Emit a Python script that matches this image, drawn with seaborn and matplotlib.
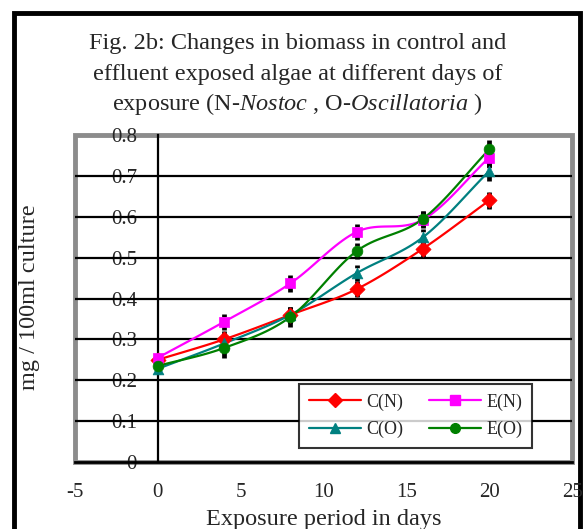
"""
Biomass of control and effluent exposed algae (Fig. 2b) redrawn with seaborn.
"""
import numpy as np
import pandas as pd
import seaborn as sns
import matplotlib
matplotlib.use('Agg')
import matplotlib.pyplot as plt
from matplotlib.lines import Line2D
from matplotlib.patches import Rectangle

# Days of exposure
DAYS = [0, 4, 8, 12, 16, 20]

# Biomass (mg / 100ml culture)
C_N = [0.250, 0.300, 0.360, 0.423, 0.522, 0.640]
E_N = [0.255, 0.343, 0.437, 0.563, 0.593, 0.745]
C_O = [0.228, 0.290, 0.360, 0.462, 0.550, 0.712]
E_O = [0.235, 0.279, 0.355, 0.516, 0.595, 0.765]

# Error bars (approximate)
ERR_C_N = [0.012, 0.020, 0.020, 0.020, 0.020, 0.020]
ERR_E_N = [0.012, 0.020, 0.020, 0.020, 0.020, 0.024]
ERR_C_O = [0.012, 0.024, 0.020, 0.020, 0.020, 0.024]
ERR_E_O = [0.012, 0.024, 0.024, 0.020, 0.020, 0.024]

SERIES = ['C(N)', 'E(N)', 'C(O)', 'E(O)']
COLORS = {'C(N)': '#FF0000', 'E(N)': '#FF00FF', 'C(O)': '#008080', 'E(O)': '#008000'}
MARKERS = {'C(N)': 'D', 'E(N)': 's', 'C(O)': '^', 'E(O)': 'o'}

DATA = pd.DataFrame({'day': DAYS * 4,
                     'biomass': C_N + E_N + C_O + E_O,
                     'err': ERR_C_N + ERR_E_N + ERR_C_O + ERR_E_O,
                     'series': [s for s in SERIES for _ in DAYS]})


def smooth(x, y, n=20):
    # Catmull-Rom curve through the points, like the spreadsheet "smoothed line"
    x = np.asarray(x, float)
    y = np.asarray(y, float)
    px = np.concatenate([[2 * x[0] - x[1]], x, [2 * x[-1] - x[-2]]])
    py = np.concatenate([[2 * y[0] - y[1]], y, [2 * y[-1] - y[-2]]])
    t = np.linspace(0, 1, n)
    xs, ys = [], []
    for i in range(1, len(px) - 2):
        for p, out in ((px, xs), (py, ys)):
            p0, p1, p2, p3 = p[i - 1], p[i], p[i + 1], p[i + 2]
            out.extend(0.5 * (2 * p1 + (-p0 + p2) * t
                              + (2 * p0 - 5 * p1 + 4 * p2 - p3) * t ** 2
                              + (-p0 + 3 * p1 - 3 * p2 + p3) * t ** 3))
    return np.array(xs), np.array(ys)


sns.set_theme(style='white')
plt.rcParams['font.family'] = ['Liberation Serif', 'DejaVu Serif']
plt.rcParams['mathtext.fontset'] = 'custom'
plt.rcParams['mathtext.rm'] = 'Liberation Serif'
plt.rcParams['mathtext.it'] = 'Liberation Serif:italic'
plt.rcParams['axes.unicode_minus'] = False

fig = plt.figure(figsize=(5.85, 5.29), dpi=100)
ax = fig.add_axes([0.128, 0.1267, 0.85, 0.618])

# horizontal grid lines
for g in np.arange(0.1, 0.75, 0.1):
    ax.axhline(g, color='black', lw=1.6, zorder=1)

# smoothed lines
for s in SERIES:
    d = DATA[DATA['series'] == s]
    xs, ys = smooth(d['day'], d['biomass'])
    sm = pd.DataFrame({'x': xs, 'y': ys})
    sns.lineplot(data=sm, x='x', y='y', sort=False, color=COLORS[s], lw=1.6,
                 ax=ax, zorder=3)

# error bars
for s in SERIES:
    d = DATA[DATA['series'] == s]
    eb = ax.errorbar(d['day'], d['biomass'], yerr=d['err'], fmt='none',
                     ecolor='black', elinewidth=3.4, capsize=0, zorder=3.5)
    eb[2][0].set_linestyle((0, (2, 0.8)))

# markers
for s in SERIES:
    d = DATA[DATA['series'] == s]
    sns.scatterplot(data=d, x='day', y='biomass', marker=MARKERS[s],
                    color=COLORS[s], s=60, edgecolor=COLORS[s], linewidth=0.5,
                    ax=ax, zorder=4)

ax.set_xlim(-5, 25)
ax.set_ylim(0, 0.8)
ax.set_xticks([-5, 0, 5, 10, 15, 20, 25])
ax.set_yticks(np.arange(0, 0.81, 0.1))
ax.set_yticklabels(['0', '0.1', '0.2', '0.3', '0.4', '0.5', '0.6', '0.7', '0.8'])

# y axis crosses at x = 0
ax.spines['left'].set_position(('data', 0))
ax.spines['left'].set_color('black')
ax.spines['left'].set_linewidth(1.6)
ax.spines['bottom'].set_color('black')
ax.spines['bottom'].set_linewidth(2)
ax.spines['top'].set_visible(False)
ax.spines['right'].set_visible(False)
ax.tick_params(axis='both', direction='out', length=6, width=1.6,
               color='black', labelsize=15)
ax.tick_params(axis='x', pad=9)
ax.tick_params(axis='y', pad=9)

# gray plot-area frame
ax.add_patch(Rectangle((0, 0), 1, 1, transform=ax.transAxes, fill=False,
                       edgecolor='#8c8c8c', lw=3.5, zorder=0, clip_on=False))

ax.set_xlabel('Exposure period in days', fontsize=17.5)
ax.set_ylabel('mg / 100ml culture', fontsize=17.5)
ax.xaxis.set_label_coords(0.5, -0.145)
ax.yaxis.set_label_coords(-0.07, 0.505)

# legend: rows C(N) E(N) / C(O) E(O)
order = ['C(N)', 'C(O)', 'E(N)', 'E(O)']
handles = [Line2D([], [], color=COLORS[s], marker=MARKERS[s], lw=1.6,
                  markersize=7) for s in order]
leg = ax.legend(handles, order, ncol=2, loc='lower right',
                bbox_to_anchor=(0.92, 0.043), borderaxespad=0, fontsize=13,
                frameon=True, fancybox=False, edgecolor='black',
                handlelength=2.9, handletextpad=0.3, columnspacing=1.4,
                borderpad=0.55, labelspacing=0.55)
leg.get_frame().set_linewidth(1.5)
leg.set_zorder(5)

# title lines
fig.text(0.509, 0.917, 'Fig. 2b: Changes in biomass in control and',
         ha='center', va='center', fontsize=17.5)
fig.text(0.509, 0.859, 'effluent exposed algae at different days of',
         ha='center', va='center', fontsize=17.5)
fig.text(0.509, 0.803,
         r'exposure (N-$\mathit{Nostoc}$ , O-$\mathit{Oscillatoria}$ )',
         ha='center', va='center', fontsize=17.5)

# outer border
fig.add_artist(Rectangle((0.024, -0.02), 0.967, 0.995, transform=fig.transFigure,
                         fill=False, edgecolor='black', lw=3.5, zorder=-1))

fig.savefig('out.png', dpi=100)
